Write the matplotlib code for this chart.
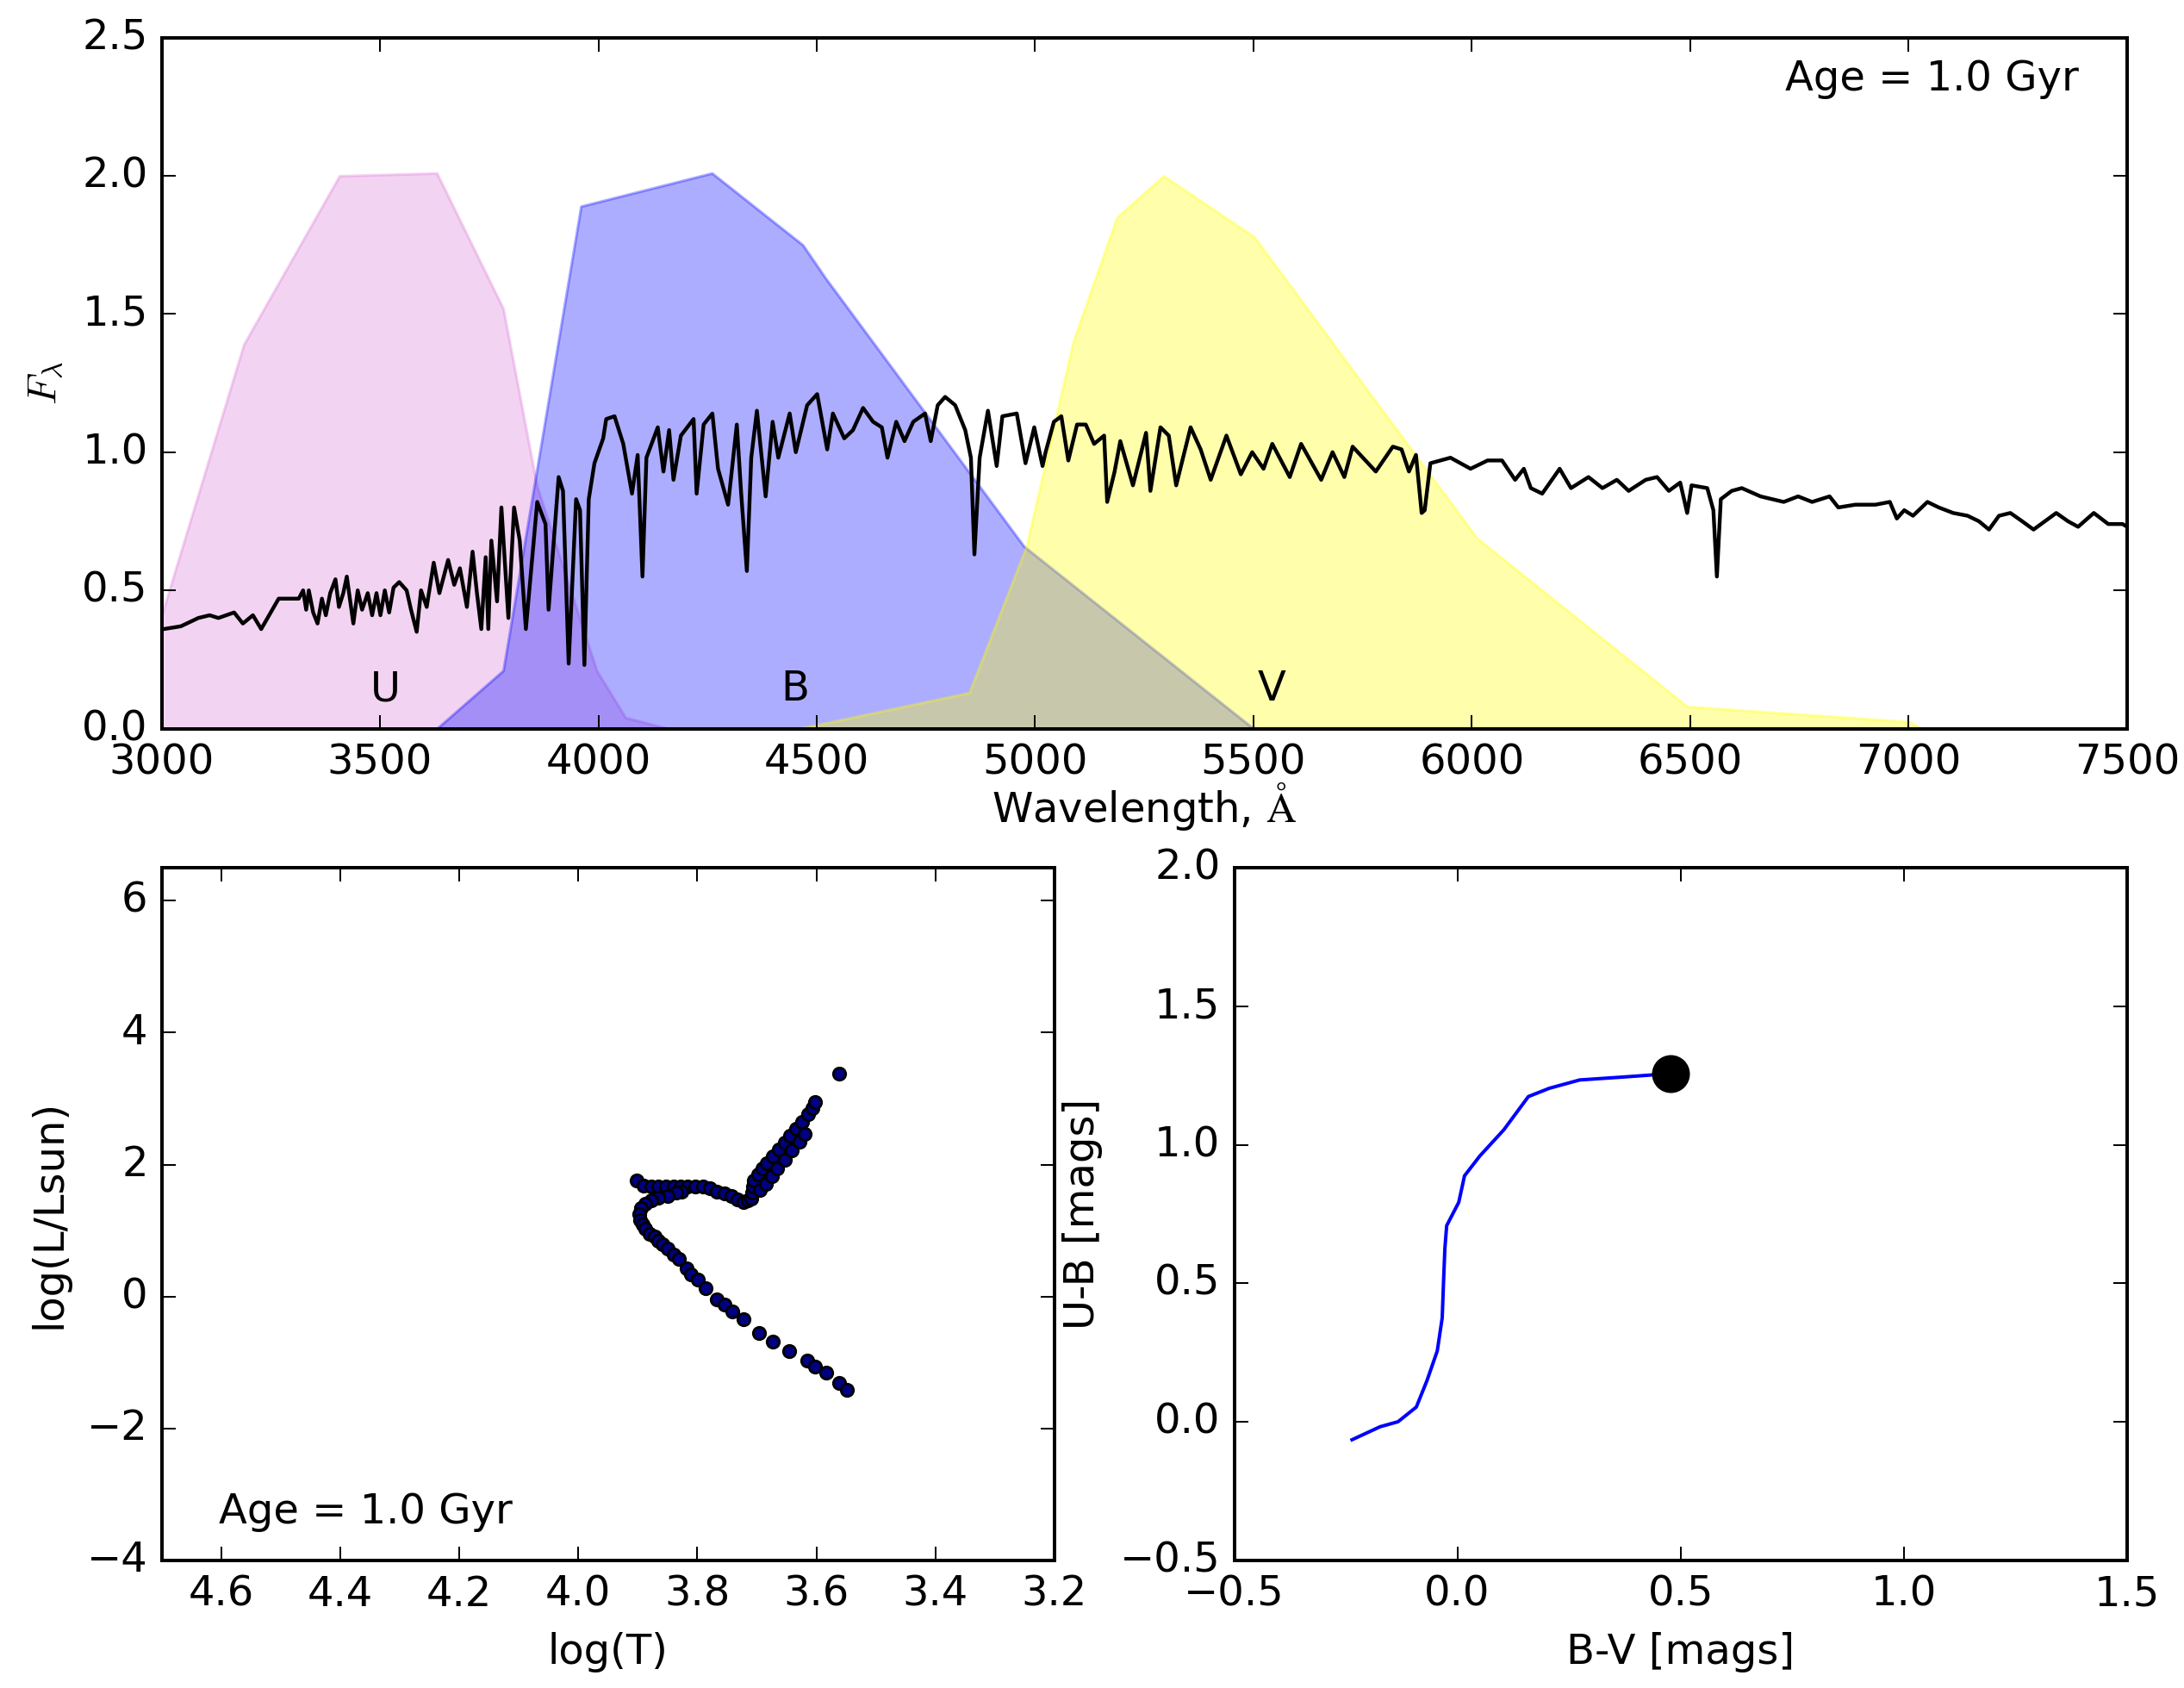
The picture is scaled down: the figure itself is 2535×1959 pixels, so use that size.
import numpy as np
import matplotlib
matplotlib.use('Agg')
import matplotlib.pyplot as plt

# spectrum of a 1 Gyr population
wave = [3000, 3005, 3044, 3084, 3110, 3130, 3166, 3186, 3209, 3228, 3268, 3314,
        3324, 3331, 3337, 3347, 3357, 3367, 3376, 3386, 3398, 3406, 3416, 3424,
        3432, 3439, 3449, 3459, 3472, 3482, 3492, 3501, 3511, 3521, 3531, 3544,
        3561, 3571, 3584, 3594, 3607, 3623, 3636, 3656, 3670, 3683, 3699, 3712,
        3722, 3732, 3742, 3748, 3755, 3768, 3778, 3794, 3807, 3820, 3834, 3860,
        3879, 3886, 3909, 3919, 3932, 3949, 3958, 3968, 3978, 3991, 4011, 4018,
        4037, 4057, 4077, 4090, 4101, 4110, 4136, 4149, 4162, 4172, 4189, 4218,
        4225, 4241, 4261, 4274, 4297, 4317, 4327, 4340, 4350, 4363, 4383, 4399,
        4412, 4438, 4452, 4478, 4501, 4524, 4537, 4563, 4583, 4606, 4629, 4649,
        4662, 4682, 4701, 4721, 4748, 4761, 4777, 4794, 4817, 4840, 4853, 4861,
        4873, 4892, 4912, 4925, 4958, 4978, 4998, 5017, 5024, 5043, 5060, 5076,
        5096, 5116, 5135, 5158, 5165, 5182, 5195, 5224, 5254, 5264, 5287, 5306,
        5323, 5356, 5379, 5402, 5438, 5471, 5497, 5523, 5543, 5583, 5609, 5655,
        5681, 5708, 5727, 5780, 5819, 5839, 5856, 5872, 5885, 5892, 5905, 5951,
        5997, 6036, 6069, 6099, 6119, 6135, 6161, 6201, 6227, 6267, 6299, 6332,
        6359, 6398, 6424, 6451, 6477, 6493, 6503, 6539, 6553, 6561, 6570, 6595,
        6618, 6661, 6714, 6747, 6779, 6819, 6839, 6878, 6924, 6957, 6973, 6990,
        7010, 7043, 7069, 7102, 7135, 7161, 7184, 7207, 7233, 7260, 7286, 7312,
        7338, 7365, 7388, 7424, 7457, 7490, 7500]
flux = [0.36, 0.36, 0.37, 0.40, 0.41, 0.40, 0.42, 0.38, 0.41, 0.36, 0.47, 0.47,
        0.50, 0.43, 0.50, 0.42, 0.38, 0.47, 0.41, 0.49, 0.54, 0.44, 0.49, 0.55,
        0.46, 0.38, 0.50, 0.43, 0.49, 0.41, 0.49, 0.41, 0.50, 0.42, 0.51, 0.53,
        0.50, 0.43, 0.35, 0.50, 0.44, 0.60, 0.49, 0.61, 0.52, 0.58, 0.44, 0.64,
        0.49, 0.36, 0.62, 0.36, 0.68, 0.46, 0.80, 0.40, 0.80, 0.68, 0.36, 0.82,
        0.74, 0.43, 0.91, 0.86, 0.235, 0.83, 0.79, 0.23, 0.83, 0.96, 1.05, 1.12,
        1.13, 1.03, 0.85, 0.99, 0.55, 0.98, 1.09, 0.93, 1.08, 0.90, 1.06, 1.12,
        0.85, 1.10, 1.14, 0.94, 0.81, 1.10, 0.85, 0.57, 0.98, 1.15, 0.84, 1.11,
        0.98, 1.14, 1.00, 1.17, 1.21, 1.01, 1.14, 1.05, 1.08, 1.16, 1.11, 1.09,
        0.98, 1.11, 1.04, 1.11, 1.14, 1.04, 1.17, 1.20, 1.17, 1.08, 0.98, 0.63,
        0.98, 1.15, 0.95, 1.13, 1.14, 0.96, 1.09, 0.95, 1.00, 1.11, 1.13, 0.97,
        1.10, 1.10, 1.03, 1.06, 0.82, 0.93, 1.04, 0.88, 1.07, 0.86, 1.09, 1.06,
        0.88, 1.09, 1.01, 0.90, 1.06, 0.92, 1.00, 0.94, 1.03, 0.91, 1.03, 0.90,
        1.00, 0.91, 1.02, 0.93, 1.02, 1.01, 0.93, 0.99, 0.78, 0.79, 0.96, 0.98,
        0.94, 0.97, 0.97, 0.90, 0.94, 0.87, 0.85, 0.94, 0.87, 0.91, 0.87, 0.90,
        0.86, 0.90, 0.91, 0.86, 0.89, 0.78, 0.88, 0.87, 0.79, 0.55, 0.83, 0.86,
        0.87, 0.84, 0.82, 0.84, 0.82, 0.84, 0.80, 0.81, 0.81, 0.82, 0.76, 0.79,
        0.77, 0.82, 0.80, 0.78, 0.77, 0.75, 0.72, 0.77, 0.78, 0.75, 0.72, 0.75,
        0.78, 0.75, 0.73, 0.78, 0.74, 0.74, 0.73]

# filter curves (scaled to a peak of 2)
u_wave = [3000, 3188, 3407, 3630, 3782, 3859, 3996, 4062, 4160]
u_resp = [0.41, 1.39, 2.00, 2.01, 1.52, 0.88, 0.21, 0.04, 0.0]
b_wave = [3630, 3782, 3960, 4260, 4468, 4520, 4974, 5500]
b_resp = [0.0, 0.21, 1.89, 2.01, 1.75, 1.63, 0.66, 0.0]
v_wave = [4460, 4849, 4980, 5087, 5187, 5294, 5501, 6011, 6493, 7000, 7030]
v_resp = [0.0, 0.13, 0.66, 1.40, 1.85, 2.00, 1.78, 0.69, 0.08, 0.025, 0.0]

filter_names = ['U', 'B', 'V']
filter_label_x = [3513, 4451, 5541]

# isochrone (HR diagram)
log_t = [3.902, 3.890, 3.877, 3.865, 3.853, 3.840, 3.828, 3.816, 3.804, 3.791,
         3.779, 3.767, 3.754, 3.742, 3.732,
         3.722, 3.715, 3.710, 3.708, 3.707,
         3.705, 3.698, 3.690, 3.683, 3.673, 3.663, 3.653, 3.644, 3.634, 3.624,
         3.614, 3.607, 3.602, 3.562,
         3.695, 3.685, 3.675, 3.666, 3.653, 3.641, 3.629, 3.619,
         3.826, 3.836, 3.850, 3.865, 3.877, 3.887, 3.895, 3.897, 3.896, 3.892,
         3.887, 3.880, 3.872, 3.865, 3.858,
         3.850, 3.839, 3.831, 3.818, 3.811, 3.799, 3.786, 3.767, 3.754, 3.741,
         3.723, 3.697, 3.673, 3.646, 3.615, 3.602, 3.584, 3.562, 3.549]
log_l = [1.763, 1.685, 1.671, 1.671, 1.671, 1.671, 1.671, 1.671, 1.671, 1.662,
         1.635, 1.594, 1.562, 1.525, 1.470,
         1.434, 1.457, 1.480, 1.571, 1.662,
         1.754, 1.845, 1.937, 2.019, 2.128, 2.234, 2.339, 2.439, 2.540, 2.645,
         2.759, 2.851, 2.951, 3.38,
         1.617, 1.708, 1.822, 1.937, 2.074, 2.211, 2.348, 2.462,
         1.594, 1.571, 1.525, 1.498, 1.457, 1.411, 1.342, 1.251, 1.160, 1.091,
         1.022, 0.954, 0.908, 0.849, 0.794,
         0.725, 0.63, 0.57, 0.43, 0.34, 0.25, 0.13, -0.05, -0.12, -0.23,
         -0.35, -0.55, -0.68, -0.83, -0.97, -1.06, -1.15, -1.31, -1.423]

# colour evolution track
b_v = [-0.236, -0.173, -0.133, -0.092, -0.068, -0.045, -0.034, -0.031, -0.028,
       -0.024, 0.003, 0.016, 0.050, 0.104, 0.159, 0.206, 0.274, 0.375, 0.478]
u_b = [-0.065, -0.018, 0.0, 0.053, 0.149, 0.256, 0.375, 0.506, 0.626,
       0.708, 0.792, 0.888, 0.959, 1.054, 1.174, 1.204, 1.234, 1.245, 1.257]

age_text = 'Age = 1.0 Gyr'

#############################################

plt.style.use('classic')
plt.rcParams['figure.facecolor'] = 'white'
plt.rcParams['savefig.facecolor'] = 'white'
plt.rcParams['font.family'] = ['DejaVu Sans']
plt.rcParams['font.size'] = 12

fig = plt.figure(figsize=(2535 / 288.0, 1959 / 288.0), dpi=288)

# spectrum + filters
ax1 = fig.add_axes([0.074, 0.5684, 0.8999, 0.4093])
ax1.fill_between(u_wave, u_resp, 0, facecolor='orchid', edgecolor='orchid',
                 alpha=0.3, lw=0.8)
ax1.fill_between(b_wave, b_resp, 0, facecolor='b', edgecolor='b',
                 alpha=0.32, lw=0.8)
ax1.fill_between(v_wave, v_resp, 0, facecolor='yellow', edgecolor='yellow',
                 alpha=0.33, lw=0.8)
ax1.plot(wave, flux, 'k-', lw=1.1)
for name, xl in zip(filter_names, filter_label_x):
    ax1.text(xl, 0.1, name, ha='center', va='baseline')
ax1.text(0.826, 0.94, age_text, ha='left', va='center', transform=ax1.transAxes)
ax1.set_xlim(3000, 7500)
ax1.set_ylim(0, 2.5)
ax1.set_xticks(np.arange(3000, 7501, 500))
ax1.set_yticks(np.arange(0, 2.51, 0.5))
ax1.set_xlabel(r'Wavelength, $\mathrm{\AA}$', labelpad=-1)
ax1.set_ylabel(r'$F_\lambda$')

# HR diagram
ax2 = fig.add_axes([0.074, 0.0757, 0.4088, 0.4102])
ax2.scatter(log_t, log_l, s=13, c=(0.0, 0.0, 0.5), edgecolors='k',
            linewidths=0.7, zorder=3)
ax2.text(0.064, 0.07, age_text, ha='left', va='center', transform=ax2.transAxes)
ax2.set_xlim(4.7, 3.2)
ax2.set_ylim(-4, 6.5)
ax2.set_xticks(np.arange(4.6, 3.19, -0.2))
ax2.set_yticks([-4, -2, 0, 2, 4, 6])
ax2.set_xlabel('log(T)')
ax2.set_ylabel('log(L/Lsun)')

# colour-colour track
ax3 = fig.add_axes([0.5651, 0.0757, 0.4088, 0.4102])
ax3.plot(b_v, u_b, 'b-', lw=1.0)
ax3.plot(b_v[-1], u_b[-1], 'ko', markersize=10.5)
ax3.set_xlim(-0.5, 1.5)
ax3.set_ylim(-0.5, 2.0)
ax3.set_xticks(np.arange(-0.5, 1.51, 0.5))
ax3.set_yticks(np.arange(-0.5, 2.01, 0.5))
ax3.set_xlabel('B-V [mags]')
ax3.set_ylabel('U-B [mags]')

fig.savefig('out.png', dpi=288)
